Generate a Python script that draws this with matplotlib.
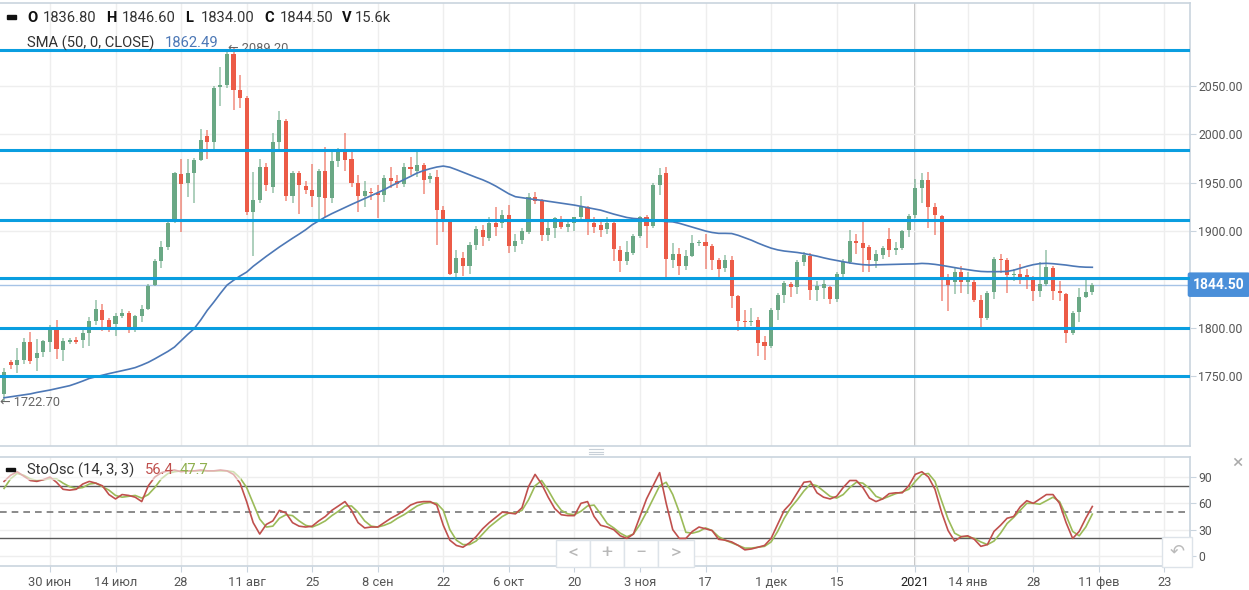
import numpy as np
import pandas as pd
import matplotlib
matplotlib.use("Agg")
import matplotlib.pyplot as plt
from matplotlib.patches import Rectangle
from matplotlib.lines import Line2D

plt.rcParams['font.family'] = ['Roboto', 'DejaVu Sans']

# trading days shown on the chart (Christmas and New Year have no bar)
holidays = pd.to_datetime(['2020-12-25', '2021-01-01'])
all_days = pd.bdate_range('2020-06-19', '2021-03-31')
all_days = all_days[~all_days.isin(holidays)]
n_bars = 167
days = all_days[:n_bars]

open_ = [1731, 1765, 1761, 1767, 1785, 1769, 1775, 1785, 1798, 1777,
         1785, 1787, 1787, 1794, 1807, 1818, 1808, 1804, 1812, 1815,
         1800, 1812, 1819, 1844, 1869, 1883, 1910, 1959, 1950, 1960,
         1973, 1998, 1992, 2049, 2051, 2083, 2046, 2038, 1920, 1932,
         1966, 1946, 1992, 2014, 1936, 1960, 1947, 1942, 1935, 1962,
         1934, 1972, 1982, 1974, 1950, 1936, 1940, 1939, 1937, 1955,
         1952, 1949, 1966, 1962, 1968, 1954, 1956, 1922, 1909, 1857,
         1872, 1864, 1886, 1901, 1893, 1908, 1908, 1917, 1885, 1891,
         1899, 1935, 1931, 1896, 1903, 1911, 1904, 1908, 1914, 1925,
         1908, 1906, 1902, 1908, 1880, 1869, 1877, 1895, 1915, 1905,
         1948, 1960, 1870, 1876, 1864, 1874, 1888, 1889, 1884, 1870,
         1862, 1870, 1833, 1807, 1806, 1808, 1785, 1781, 1818, 1834,
         1845, 1842, 1868, 1874, 1839, 1841, 1842, 1830, 1856, 1868,
         1890, 1888, 1883, 1869, 1875, 1892, 1880, 1882, 1901, 1917,
         1944, 1953, 1925, 1916, 1850, 1847, 1858, 1847, 1847, 1829,
         1810, 1837, 1871, 1870, 1854, 1856, 1854, 1850, 1838, 1845,
         1862, 1838, 1835, 1795, 1816, 1832, 1836.8]
high = [1758, 1767, 1779, 1789, 1796, 1788, 1787, 1803, 1808, 1789,
        1789, 1790, 1799, 1811, 1829, 1825, 1810, 1815, 1819, 1817,
        1813, 1823, 1845, 1871, 1890, 1910, 1961, 1975, 1975, 1976,
        2006, 2005, 2050, 2070, 2086, 2089.2, 2061, 2040, 1961, 1975,
        1970, 2001, 2024, 2016, 1962, 1962, 1952, 1969, 1964, 1987,
        1985, 1986, 2001, 1982, 1958, 1952, 1944, 1948, 1958, 1966,
        1958, 1970, 1977, 1984, 1970, 1960, 1963, 1926, 1910, 1880,
        1878, 1889, 1905, 1906, 1914, 1925, 1922, 1927, 1897, 1903,
        1939, 1940, 1933, 1912, 1914, 1916, 1910, 1915, 1936, 1926,
        1915, 1912, 1915, 1911, 1884, 1890, 1897, 1916, 1917, 1950,
        1965, 1966, 1888, 1882, 1880, 1896, 1891, 1897, 1887, 1872,
        1875, 1874, 1834, 1818, 1820, 1811, 1791, 1820, 1836, 1848,
        1847, 1870, 1878, 1877, 1848, 1852, 1843, 1858, 1871, 1901,
        1897, 1911, 1886, 1880, 1884, 1903, 1889, 1901, 1918, 1954,
        1960, 1961, 1929, 1917, 1856, 1862, 1864, 1858, 1852, 1834,
        1838, 1873, 1876, 1872, 1861, 1866, 1861, 1853, 1868, 1880,
        1864, 1848, 1836, 1817, 1841, 1849, 1846.6]
low = [1722.7, 1757, 1753, 1762, 1762, 1755, 1770, 1775, 1768, 1766,
       1783, 1783, 1779, 1781, 1803, 1797, 1796, 1791, 1810, 1794,
       1796, 1806, 1818, 1843, 1862, 1880, 1908, 1899, 1935, 1929,
       1972, 1975, 1984, 2029, 2048, 2025, 2027, 1917, 1874, 1929,
       1941, 1939, 1985, 1931, 1929, 1918, 1938, 1925, 1909, 1915,
       1929, 1966, 1962, 1946, 1920, 1925, 1932, 1913, 1930, 1944,
       1944, 1946, 1958, 1956, 1938, 1950, 1886, 1899, 1854, 1852,
       1853, 1856, 1880, 1885, 1890, 1895, 1903, 1877, 1878, 1887,
       1897, 1928, 1890, 1890, 1893, 1902, 1899, 1900, 1911, 1896,
       1898, 1894, 1897, 1869, 1858, 1865, 1875, 1893, 1882, 1903,
       1937, 1849, 1862, 1855, 1860, 1873, 1884, 1861, 1860, 1850,
       1858, 1820, 1797, 1800, 1802, 1771, 1767, 1779, 1808, 1826,
       1832, 1835, 1864, 1829, 1828, 1830, 1825, 1827, 1852, 1866,
       1876, 1858, 1858, 1862, 1871, 1873, 1875, 1880, 1894, 1913,
       1929, 1903, 1896, 1828, 1817, 1835, 1836, 1835, 1827, 1801,
       1808, 1830, 1857, 1836, 1848, 1845, 1840, 1828, 1832, 1843,
       1829, 1828, 1784, 1792, 1806, 1831, 1834.0]
close = [1754, 1761, 1767, 1785, 1766, 1774, 1786, 1801, 1778, 1786,
         1787, 1785, 1794, 1807, 1819, 1808, 1801, 1812, 1815, 1798,
         1812, 1819, 1843, 1869, 1883, 1908, 1960, 1949, 1960, 1973,
         1994, 1992, 2048, 2051, 2083, 2046, 2038, 1920, 1932, 1966,
         1948, 1992, 2015, 1936, 1960, 1948, 1942, 1936, 1962, 1934,
         1972, 1982, 1973, 1950, 1936, 1941, 1939, 1937, 1955, 1952,
         1949, 1966, 1964, 1968, 1953, 1957, 1922, 1910, 1856, 1872,
         1864, 1886, 1902, 1894, 1908, 1904, 1917, 1885, 1890, 1900,
         1935, 1931, 1896, 1903, 1913, 1904, 1907, 1914, 1925, 1909,
         1904, 1901, 1908, 1881, 1869, 1878, 1895, 1915, 1905, 1948,
         1958, 1871, 1876, 1864, 1874, 1888, 1889, 1884, 1870, 1861,
         1870, 1833, 1807, 1806, 1807, 1784, 1781, 1818, 1834, 1846,
         1842, 1868, 1875, 1839, 1843, 1845, 1830, 1856, 1868, 1890,
         1888, 1882, 1870, 1876, 1882, 1880, 1882, 1900, 1916, 1944,
         1953, 1925, 1917, 1851, 1844, 1858, 1847, 1850, 1829, 1810,
         1836, 1871, 1870, 1855, 1856, 1851, 1849, 1838, 1845, 1863,
         1838, 1836, 1795, 1815, 1832, 1837, 1844.5]
volume_last = '15.6k'

sma50 = [1727.5, 1728.5, 1729.5, 1730.5, 1731.5, 1733, 1734.2, 1735.5, 1737, 1738.5,
         1740, 1742.3, 1744.8, 1747.5, 1749.2, 1750.8, 1752.5, 1754, 1755.6, 1757,
         1758.7, 1761.3, 1764.2, 1767.8, 1771.6, 1775.5, 1780, 1786.5, 1793, 1799,
         1808, 1818, 1826.5, 1835.5, 1844, 1849, 1853.5, 1857.5, 1863.5, 1868.7,
         1873.8, 1878.7, 1883.5, 1888, 1892.5, 1896.8, 1901.3, 1906.5, 1910.5, 1914.5,
         1918, 1921.2, 1924.5, 1927.5, 1930.5, 1933.5, 1936.6, 1939.7, 1942.8, 1946.5,
         1949.8, 1953, 1956.5, 1960, 1962.5, 1964.5, 1966.2, 1967.2, 1966, 1963.5,
         1960.8, 1958, 1955.5, 1953, 1950, 1946.5, 1942.5, 1938.5, 1935.5, 1934.5,
         1933.5, 1932.5, 1931.8, 1930.8, 1929.8, 1928.8, 1927.8, 1926.8, 1925.5, 1924.2,
         1922.8, 1921.6, 1919.6, 1917.5, 1915.8, 1914, 1913, 1912.5, 1912, 1911.2,
         1910.5, 1909.8, 1909.5, 1908, 1906, 1904, 1902, 1900, 1898.5, 1897.6,
         1897.6, 1897.4, 1895.5, 1893, 1890.5, 1887.5, 1884.8, 1882.3, 1880.5, 1879.3,
         1878.5, 1877.8, 1876.7, 1875.3, 1874, 1872.3, 1870.8, 1869.5, 1868.2, 1867,
         1866, 1865.2, 1864.8, 1865, 1865.2, 1865.4, 1865.5, 1865.7, 1865.9, 1866,
         1866.5, 1866.2, 1865.5, 1864.5, 1863.3, 1862, 1861, 1860, 1859, 1858.2,
         1857.9, 1857.9, 1858, 1858.2, 1859.5, 1861.5, 1863.5, 1865.2, 1866.3, 1866.6,
         1866.2, 1865.5, 1864.8, 1863.8, 1863, 1862.6, 1862.49]

sto_k = [85, 92, 96, 91, 86, 85, 87, 90, 84, 76,
         75, 76, 82, 85, 83, 80, 70, 65, 70, 69,
         67, 62, 80, 90, 95, 97, 98, 96, 97, 97,
         98, 97, 97, 98, 97, 93, 83, 62, 38, 25,
         36, 40, 52, 49, 38, 34, 33, 34, 40, 45,
         52, 57, 62, 52, 38, 32, 33, 33, 38, 43,
         47, 52, 58, 61, 62, 62, 58, 35, 18, 12,
         10, 15, 22, 31, 38, 44, 50, 49, 48, 55,
         79, 93, 82, 67, 54, 47, 46, 46, 60, 62,
         45, 35, 33, 30, 23, 20, 25, 45, 65, 80,
         95, 60, 30, 20, 20, 28, 33, 31, 29, 19,
         18, 16, 12, 7, 8, 10, 12, 20, 36, 52,
         60, 72, 84, 85, 72, 67, 65, 68, 78, 86,
         86, 78, 66, 62, 65, 71, 72, 72, 80, 93,
         96, 90, 76, 50, 29, 17, 22, 23, 19, 11,
         13, 28, 35, 43, 45, 56, 63, 60, 65, 70,
         70, 60, 38, 20, 28, 43, 56.4]
sto_d = [77, 88, 94, 92, 88, 86, 87, 88, 88, 83,
         79, 77, 78, 82, 83, 79, 75, 69, 67, 68,
         69, 66, 70, 78, 88, 94, 96, 97, 97, 97,
         97, 97, 97, 97, 97, 96, 89, 78, 60, 42,
         33, 34, 43, 47, 46, 40, 35, 33, 36, 40,
         46, 51, 57, 57, 50, 40, 34, 33, 35, 38,
         43, 47, 52, 57, 60, 61, 60, 52, 30, 18,
         13, 13, 17, 25, 33, 39, 45, 49, 49, 52,
         64, 80, 86, 75, 62, 52, 48, 47, 51, 57,
         58, 48, 37, 32, 26, 22, 25, 36, 50, 65,
         80, 84, 70, 50, 27, 26, 28, 32, 29, 22,
         18, 15, 12, 9, 9, 10, 11, 16, 28, 43,
         55, 64, 74, 82, 80, 74, 68, 66, 70, 78,
         84, 83, 77, 68, 65, 68, 71, 73, 76, 85,
         93, 94, 85, 63, 42, 26, 22, 22, 20, 16,
         13, 17, 26, 37, 44, 52, 60, 60, 59, 63,
         67, 62, 46, 28, 23, 33, 47.7]

levels = [2087.5, 1984, 1911.5, 1851.5, 1800, 1750]
price_ticks = [1750, 1800, 1850, 1900, 1950, 2000, 2050]
sto_ticks = [0, 30, 60, 90]
sto_bands = [80, 50, 20]

tick_dates = ['2020-06-30', '2020-07-14', '2020-07-28', '2020-08-11', '2020-08-25',
              '2020-09-08', '2020-09-22', '2020-10-06', '2020-10-20', '2020-11-03',
              '2020-11-17', '2020-12-01', '2020-12-15', '2021-01-04', '2021-01-14',
              '2021-01-28', '2021-02-11']
tick_labels = ['30 июн', '14 июл', '28', '11 авг', '25', '8 сен', '22', '6 окт', '20',
               '3 ноя', '17', '1 дек', '15', '2021', '14 янв', '28', '11 фев', '23']

o = np.array(open_); h = np.array(high); l = np.array(low); c = np.array(close)
x = np.arange(n_bars)
assert len(days) == len(o) == len(sma50) == len(sto_k) == len(sto_d)

tick_pos = [all_days.get_loc(pd.Timestamp(d)) for d in tick_dates]
tick_pos.append(tick_pos[-1] + 10)
year_pos = tick_pos[tick_labels.index('2021')]

W, H = 1249, 590
fig = plt.figure(figsize=(W / 100, H / 100), dpi=100)


def box(x0, y0, x1, y1):
    return [x0 / W, 1 - y1 / H, (x1 - x0) / W, (y1 - y0) / H]


def ftext(px, py, s, **kw):
    return fig.text(px / W, 1 - py / H, s, **kw)


ax = fig.add_axes(box(0, 3, 1190, 446))
ax2 = fig.add_axes(box(0, 457, 1190, 566), sharex=ax)

GREEN = '#6aa885'
RED = '#ec5b47'
FRAME = '#c9d4de'
GRID = '#eeeeee'

up = c >= o
col = np.where(up, GREEN, RED)
ax.vlines(x, l, h, colors=col, lw=1.1, alpha=0.7, zorder=3)
ax.bar(x, np.maximum(np.abs(c - o), 0.9), bottom=np.minimum(o, c), width=0.62,
       color=col, linewidth=0, zorder=4)

ax.plot(x, sma50, color='#4d78b6', lw=1.2, zorder=5)
for lv in levels:
    ax.axhline(lv, color='#0a9ee0', lw=2.2, zorder=6)
ax.axhline(c[-1], color='#a6c3e6', lw=1.0, zorder=2)

# extremes
imax = int(np.argmax(h)); imin = int(np.argmin(l))
ax.text(imax - 0.85, h[imax], '\u2190 %.2f' % h[imax], ha='left', va='center',
        fontsize=9.2, color='#666666', zorder=5)
ax.text(imin - 0.65, l[imin], '\u2190 %.2f' % l[imin], ha='left', va='center',
        fontsize=9.2, color='#666666', zorder=5)

ax.set_xlim(-0.62, 180.9)
ax.set_ylim(1677.6, 2135.9)
ax.set_yticks(price_ticks)
# the 1850 label sits under the last-price badge
ax.set_yticklabels(['' if abs(v - c[-1]) < 15 else '%.2f' % v for v in price_ticks])
ax.yaxis.tick_right()
ax.tick_params(axis='y', colors=FRAME, labelcolor='#555555', labelsize=8.8,
               length=4, pad=2)
ax.tick_params(axis='x', length=0, labelbottom=False)
ax.set_xticks(tick_pos)
ax.grid(True, color=GRID, lw=1, zorder=0)
ax.axvline(year_pos, color='#b4b4b4', lw=1.2, zorder=1)

ax.text(1.0025, c[-1], '%.2f' % c[-1], transform=ax.get_yaxis_transform(),
        ha='left', va='center', color='white', fontsize=10, fontweight='bold',
        bbox=dict(boxstyle='round,pad=0.38,rounding_size=0.15', fc='#4a8fd9', ec='none'))

# stochastic panel
for b in sto_bands:
    if b == 50:
        ax2.axhline(b, color='#777777', lw=1.2, ls=(0, (4, 3)), zorder=2)
    else:
        ax2.axhline(b, color='#5a5a5a', lw=1.0, zorder=2)
ax2.plot(x, sto_d, color='#9bbb59', lw=1.2, zorder=3)
ax2.plot(x, sto_k, color='#c0504d', lw=1.2, zorder=4)
ax2.set_ylim(-11.4, 112.8)
ax2.set_yticks(sto_ticks)
ax2.yaxis.tick_right()
ax2.tick_params(axis='y', colors=FRAME, labelcolor='#555555', labelsize=8.8,
                length=4, pad=2)
ax2.set_xticks(tick_pos)
ax2.set_xticklabels(tick_labels)
ax2.tick_params(axis='x', colors=FRAME, labelcolor='#555555', labelsize=9.3,
                length=4, pad=3)
for t in ax2.get_xticklabels():
    if t.get_text() == '2021':
        t.set_color('#222222')
ax2.grid(True, color=GRID, lw=1, zorder=0)
ax2.axvline(year_pos, color='#b4b4b4', lw=1.2, zorder=1)

for a in (ax, ax2):
    a.spines['left'].set_visible(False)
    for s in ('top', 'right', 'bottom'):
        a.spines[s].set_color(FRAME)
        a.spines[s].set_linewidth(1.2)

# legends
fig.patches.append(Rectangle((7 / W, 1 - 18.5 / H), 9 / W, 3 / H,
                             transform=fig.transFigure, color='#111111'))
legend_main = [('O', o[-1]), ('H', h[-1]), ('L', l[-1]), ('C', c[-1])]
px = 27
for key, val in legend_main:
    ftext(px, 18, key, fontsize=10.6, fontweight='bold', color='#111111', va='center')
    ftext(px + 16, 18, '%.2f' % val, fontsize=10.6, color='#333333', va='center')
    px += 79
ftext(px - 1, 18, 'V', fontsize=10.6, fontweight='bold', color='#111111', va='center')
ftext(px + 12, 18, volume_last, fontsize=10.6, color='#333333', va='center')
ftext(27, 43, 'SMA (50, 0, CLOSE)', fontsize=10.6, color='#333333', va='center')
ftext(165, 43, '%.2f' % sma50[-1], fontsize=10.6, color='#4d78b6', va='center')

fig.patches.append(Rectangle((0, 1 - 479 / H), 240 / W, 18 / H,
                             transform=fig.transFigure, color='white', alpha=0.55,
                             zorder=5))
fig.patches.append(Rectangle((6 / W, 1 - 471 / H), 9 / W, 3 / H,
                             transform=fig.transFigure, color='#111111', zorder=6))
ftext(27, 470, 'StoOsc (14, 3, 3)', fontsize=10.6, color='#333333', va='center', zorder=7)
ftext(145, 470, '%.1f' % sto_k[-1], fontsize=10.6, color='#c0504d', va='center', zorder=7)
ftext(180, 470, '%.1f' % sto_d[-1], fontsize=10.6, color='#8fb04f', va='center', zorder=7)

# widgets
for (x0, x1), sym in zip([(556, 590), (590, 624), (624, 658), (658, 694)],
                         ['<', '+', '\u2212', '>']):
    fig.patches.append(Rectangle((x0 / W, 1 - 567 / H), (x1 - x0) / W, 27 / H,
                                 transform=fig.transFigure, fc='white', ec='#dde3e9',
                                 lw=1, zorder=8))
    ftext((x0 + x1) / 2, 553.5, sym, fontsize=14, color='#b8b8b8', ha='center',
          va='center', zorder=9)
fig.patches.append(Rectangle((1162 / W, 1 - 567 / H), 30 / W, 30 / H,
                             transform=fig.transFigure, fc='white', ec='#dde3e9',
                             lw=1, zorder=8))
ftext(1177, 552, '\u21b6', fontsize=13, color='#bbbbbb', ha='center', va='center',
      zorder=9, family='DejaVu Sans')
ftext(1237, 463, '\u00d7', fontsize=14, color='#aaaaaa', ha='center', va='center')
for yy in (449, 451.5, 454):
    fig.lines.append(Line2D([589 / W, 603 / W], [1 - yy / H, 1 - yy / H],
                            transform=fig.transFigure, color='#c8d0d8', lw=0.8))

fig.savefig('out.png', dpi=100)
